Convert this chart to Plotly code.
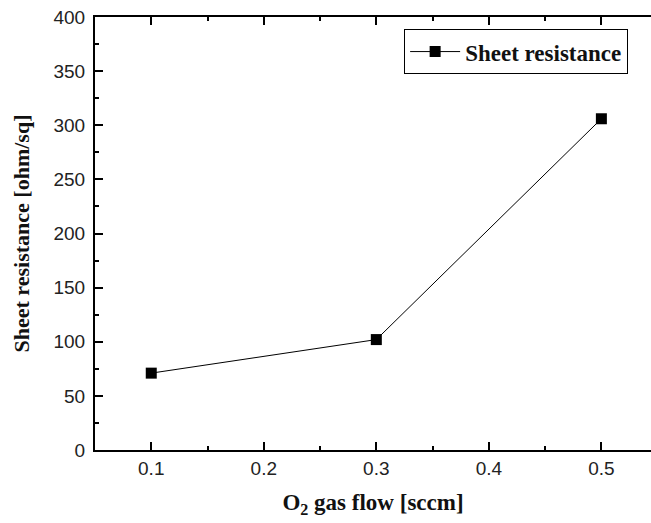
import plotly.graph_objects as go

o2_flow = [0.1, 0.3, 0.5]
sheet_resistance = [71, 102, 306]
series_name = "Sheet resistance"

fig = go.Figure()
fig.add_trace(go.Scatter(
    x=o2_flow, y=sheet_resistance, mode="lines+markers", name=series_name,
    line=dict(color="black", width=1),
    marker=dict(symbol="square", size=11, color="black"),
))

tickfont = dict(family="Liberation Sans, Arial", size=19, color="#222")
xtitlefont = dict(family="Liberation Serif, Times New Roman", size=23, color="#111")
ytitlefont = dict(family="Liberation Serif, Times New Roman", size=22, color="#111")

fig.update_layout(
    width=651, height=523,
    margin=dict(l=95, r=0, t=17, b=73),
    plot_bgcolor="white", paper_bgcolor="white",
    showlegend=True,
    legend=dict(
        x=0.556, y=0.972, xanchor="left", yanchor="top",
        bordercolor="black", borderwidth=1,
        font=dict(family="Liberation Serif, Times New Roman", size=23, color="#111", weight="bold"),
        bgcolor="white", itemwidth=50, tracegroupgap=0,
    ),
    xaxis=dict(
        range=[0.05, 0.5441], tickvals=[0.1, 0.2, 0.3, 0.4, 0.5],
        ticktext=["0.1", "0.2", "0.3", "0.4", "0.5"],
        showgrid=False, zeroline=False,
        showline=True, linecolor="black", linewidth=2, mirror="ticks",
        ticks="inside", ticklen=8, tickwidth=1.5, tickcolor="black",
        minor=dict(tickvals=[0.15, 0.25, 0.35, 0.45], ticks="inside", ticklen=4, tickwidth=1.5, tickcolor="black"),
        tickfont=tickfont,
        title=dict(text="<b>O<sub>2</sub> gas flow [sccm]</b>", font=xtitlefont, standoff=16),
    ),
    yaxis=dict(
        range=[0, 400], tickvals=[0, 50, 100, 150, 200, 250, 300, 350, 400],
        showgrid=False, zeroline=False,
        showline=True, linecolor="black", linewidth=2,
        ticks="inside", ticklen=8, tickwidth=1.5, tickcolor="black",
        minor=dict(tickvals=[25, 75, 125, 175, 225, 275, 325, 375], ticks="inside", ticklen=4, tickwidth=1.5, tickcolor="black"),
        tickfont=tickfont, ticklabelstandoff=4,
        title=dict(text="<b>Sheet resistance [ohm/sq]</b>", font=ytitlefont, standoff=18),
    ),
)

fig.write_html("out.html")
